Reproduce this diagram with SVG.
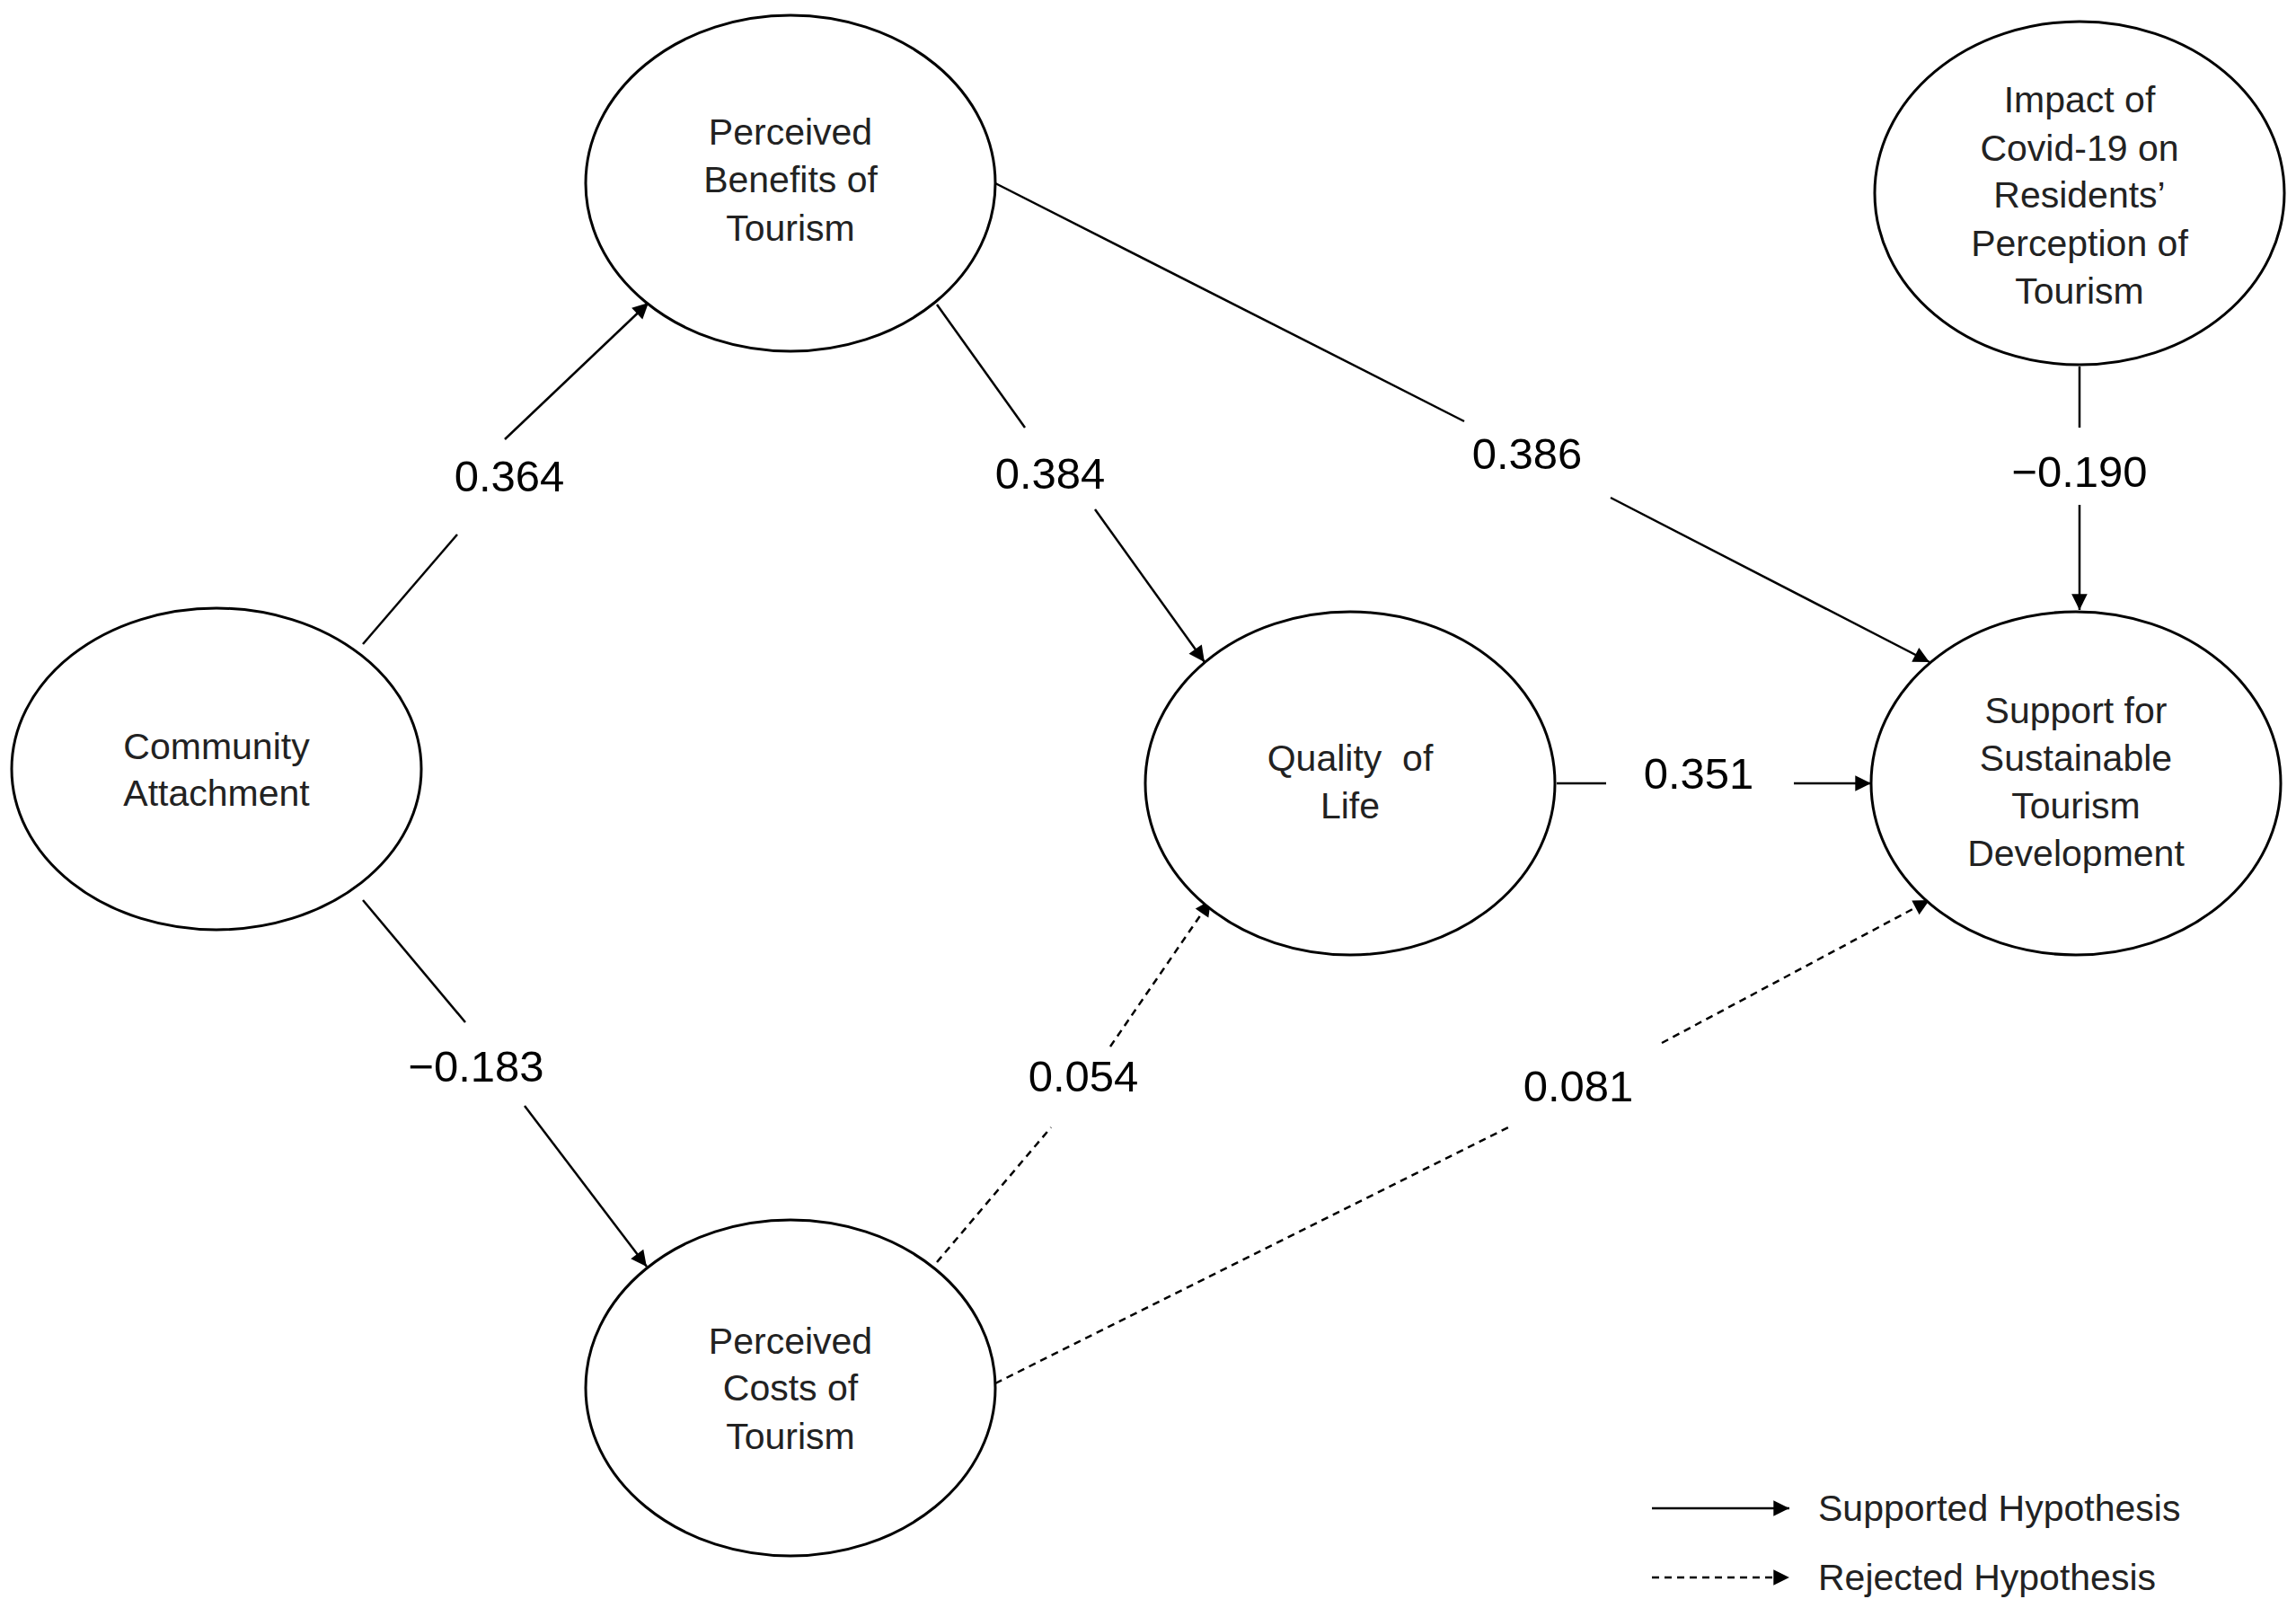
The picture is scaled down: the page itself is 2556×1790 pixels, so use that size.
<svg xmlns="http://www.w3.org/2000/svg" width="2556" height="1790" viewBox="0 0 2556 1790">
<defs>
<style>
.n{fill:#fff;stroke:#000;stroke-width:3}
.t{font-family:"Liberation Sans",Arial,sans-serif;font-size:41px;text-anchor:middle;dominant-baseline:central;fill:#222}
.l{font-family:"Liberation Sans",Arial,sans-serif;font-size:49px;text-anchor:middle;dominant-baseline:central;fill:#000}
.s{stroke:#000;stroke-width:2.5;fill:none}
.d{stroke:#000;stroke-width:2.5;fill:none;stroke-dasharray:8 6}
</style>
<marker id="a" viewBox="0 0 10 10" refX="10" refY="5" markerWidth="8" markerHeight="8" markerUnits="userSpaceOnUse" orient="auto" style="overflow:visible"><path d="M0,0 L10,5 L0,10 z" fill="#000" transform="scale(2.2) translate(-5.5 -2.7)"/></marker>
</defs>
<rect width="2556" height="1790" fill="#fff"/>
<g id="connectors">
<line class="s" x1="404" y1="717" x2="509" y2="595"/><line class="s" x1="562" y1="489" x2="722" y2="337" marker-end="url(#a)"/>
<line class="s" x1="1043" y1="339" x2="1141" y2="476"/><line class="s" x1="1219" y1="567" x2="1341" y2="737" marker-end="url(#a)"/>
<line class="s" x1="1108" y1="204" x2="1630" y2="469"/><line class="s" x1="1793" y1="554" x2="2148" y2="737" marker-end="url(#a)"/>
<line class="s" x1="2315" y1="408" x2="2315" y2="476"/><line class="s" x1="2315" y1="562" x2="2315" y2="679" marker-end="url(#a)"/>
<line class="s" x1="1733" y1="872" x2="1788" y2="872"/><line class="s" x1="1997" y1="872" x2="2083" y2="872" marker-end="url(#a)"/>
<line class="s" x1="404" y1="1002" x2="518" y2="1138"/><line class="s" x1="584" y1="1231" x2="720" y2="1410" marker-end="url(#a)"/>
<line class="d" x1="1043" y1="1405" x2="1170" y2="1255"/><line class="d" x1="1236" y1="1165" x2="1348" y2="1002" marker-end="url(#a)"/>
<line class="d" x1="1108" y1="1540" x2="1679" y2="1255"/><line class="d" x1="1850" y1="1161" x2="2148" y2="1002" marker-end="url(#a)"/>
<text class="l" x="567" y="530">0.364</text>
<text class="l" x="1169" y="527">0.384</text>
<text class="l" x="1700" y="505">0.386</text>
<text class="l" x="2315" y="525">−0.190</text>
<text class="l" x="1891" y="861">0.351</text>
<text class="l" x="530" y="1187">−0.183</text>
<text class="l" x="1206" y="1198">0.054</text>
<text class="l" x="1757" y="1209">0.081</text>
</g>
<g id="ca"><ellipse class="n" cx="241" cy="856" rx="228" ry="179"/><text class="t" x="241" y="831">Community</text><text class="t" x="241" y="883">Attachment</text></g>
<g id="pb"><ellipse class="n" cx="880" cy="204" rx="228" ry="187"/><text class="t" x="880" y="147">Perceived</text><text class="t" x="880" y="200">Benefits of</text><text class="t" x="880" y="254">Tourism</text></g>
<g id="pc"><ellipse class="n" cx="880" cy="1545" rx="228" ry="187"/><text class="t" x="880" y="1493">Perceived</text><text class="t" x="880" y="1545">Costs of</text><text class="t" x="880" y="1599">Tourism</text></g>
<g id="qol"><ellipse class="n" cx="1503" cy="872" rx="228" ry="191"/><text class="t" x="1503" y="844" xml:space="preserve">Quality  of</text><text class="t" x="1503" y="897">Life</text></g>
<g id="sup"><ellipse class="n" cx="2311" cy="872" rx="228" ry="191"/><text class="t" x="2311" y="791">Support for</text><text class="t" x="2311" y="844">Sustainable</text><text class="t" x="2311" y="897">Tourism</text><text class="t" x="2311" y="950">Development</text></g>
<g id="imp"><ellipse class="n" cx="2315" cy="215" rx="228" ry="191"/><text class="t" x="2315" y="111">Impact of</text><text class="t" x="2315" y="165">Covid-19 on</text><text class="t" x="2315" y="217">Residents’</text><text class="t" x="2315" y="271">Perception of</text><text class="t" x="2315" y="324">Tourism</text></g>
<g id="legend">
<line class="s" x1="1839" y1="1679" x2="1992" y2="1679" marker-end="url(#a)"/>
<text class="t" x="2024" y="1679" style="text-anchor:start">Supported Hypothesis</text>
<line class="d" x1="1839" y1="1756" x2="1992" y2="1756" marker-end="url(#a)"/>
<text class="t" x="2024" y="1756" style="text-anchor:start">Rejected Hypothesis</text>
</g>
</svg>
